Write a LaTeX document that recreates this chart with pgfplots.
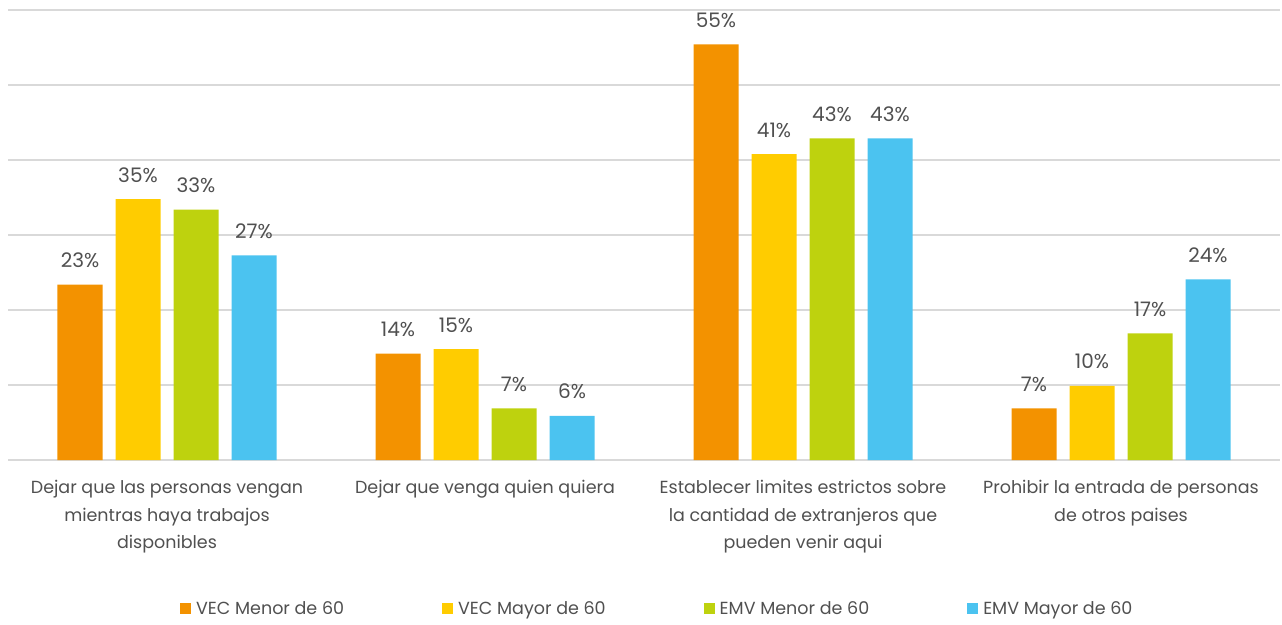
\documentclass[border=0pt]{standalone}
\usepackage{pgfplots}
\pgfplotsset{compat=1.18}
\usepackage{fontspec}
\setmainfont{Poppins}
\definecolor{cOrange}{HTML}{F39200}
\definecolor{cYellow}{HTML}{FFCC00}
\definecolor{cGreen}{HTML}{BED20E}
\definecolor{cBlue}{HTML}{4BC3F0}
\definecolor{cGrid}{HTML}{D9D9D9}
\definecolor{cText}{HTML}{505050}
\begin{document}
\begin{tikzpicture}
\begin{axis}[
    scale only axis, width=1272pt, height=450pt,
    ybar, bar width=45pt,
    xmin=-0.5, xmax=3.5, ymin=0, ymax=60,
    xtick={0,1,2,3}, major tick length=0pt,
    xticklabels={{Dejar que las personas vengan\\mientras haya trabajos\\disponibles},
                 {Dejar que venga quien quiera},
                 {Establecer limites estrictos sobre\\la cantidad de extranjeros que\\pueden venir aqui},
                 {Prohibir la entrada de personas\\de otros paises}},
    xticklabel style={align=center, anchor=north, inner sep=0pt, yshift=-20pt,
        font=\fontsize{17.5}{27.5}\selectfont, text=cText},
    ytick={0,10,...,60}, yticklabels={},
    ymajorgrids, grid style={cGrid, line width=1.5pt},
    axis line style={draw=none},
    axis x line*=bottom,
    point meta=explicit symbolic,
    nodes near coords,
    nodes near coords style={anchor=base, inner sep=0pt, yshift=17pt,
        font=\fontsize{20}{24}\selectfont, text=cText},
    legend columns=4,
    legend style={at={(rel axis cs:0.1352,-0.331)}, anchor=west, draw=none, fill=none,
        inner sep=0pt, font=\fontsize{17.5}{22}\selectfont, text=cText,
        /tikz/every odd column/.append style={column sep=3pt},
        /tikz/every even column/.append style={column sep=96pt}},
    legend image code/.code={\fill[#1] (0pt,-5.5pt) rectangle (11pt,5.5pt);},
  ]
\addplot[fill=cOrange, draw=none, bar shift=-87pt] coordinates {(0,23.4) [23\%] (1,14.2) [14\%] (2,55.4) [55\%] (3,6.9) [7\%]};
\addplot[fill=cYellow, draw=none, bar shift=-29pt] coordinates {(0,34.8) [35\%] (1,14.8) [15\%] (2,40.8) [41\%] (3,9.9) [10\%]};
\addplot[fill=cGreen, draw=none, bar shift=29pt] coordinates {(0,33.4) [33\%] (1,6.9) [7\%] (2,42.9) [43\%] (3,16.9) [17\%]};
\addplot[fill=cBlue, draw=none, bar shift=87pt] coordinates {(0,27.3) [27\%] (1,5.9) [6\%] (2,42.9) [43\%] (3,24.1) [24\%]};
\legend{VEC Menor de 60, VEC Mayor de 60, EMV Menor de 60, EMV Mayor de 60}
\coordinate (pl) at (rel axis cs:0,0);
\coordinate (pr) at (rel axis cs:1,1);
\end{axis}
\path ([xshift=-8pt,yshift=-164pt]pl) rectangle ([xshift=2pt,yshift=10pt]pr);
\end{tikzpicture}
\end{document}
